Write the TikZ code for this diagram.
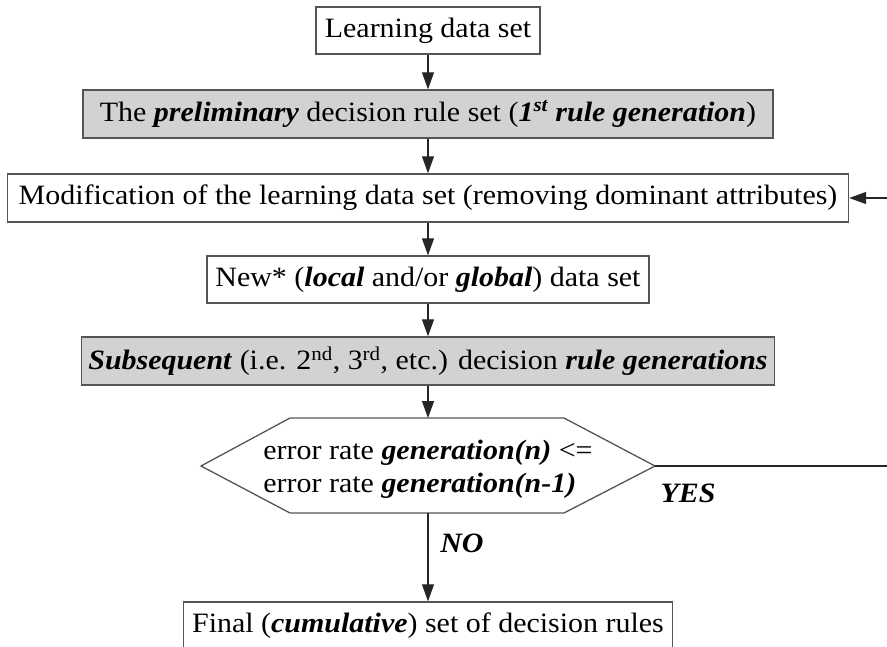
\documentclass[tikz,border=0pt]{standalone}
\usepackage{fontspec}
\setmainfont{Liberation Serif}[FakeStretch=1.07]
\usetikzlibrary{arrows.meta}

\definecolor{edgegray}{RGB}{85,85,85}
\definecolor{boxfill}{RGB}{210,210,210}
\newcommand{\bi}[1]{\textbf{\textit{#1}}}

\tikzset{
  stepbox/.style={draw=edgegray, line width=1.3pt, inner sep=0pt,
    minimum height=47pt, align=center,
    font=\fontsize{28}{33}\selectfont},
  shaded/.style={stepbox, fill=boxfill},
  flow/.style={draw=black!85, line width=1.1pt,
    -{Triangle[length=17pt,width=12pt]}},
  tag/.style={font=\fontsize{28}{33}\selectfont\bfseries\itshape},
}

\begin{document}
\begin{tikzpicture}[x=1pt, y=-1pt]
\useasboundingbox (0,0) rectangle (887,647);
\clip (0,0) rectangle (887,647);
\fill[white] (0,0) rectangle (887,647);

% process boxes
\node[stepbox, minimum width=224pt] (learn) at (428,30.5) {Learning data set};
\node[shaded, minimum width=690pt, minimum height=48pt] (prelim) at (428,114)
  {The \bi{preliminary} decision rule set (\bi{1\textsuperscript{st} rule generation})};
\node[stepbox, minimum width=841pt, minimum height=48pt] (modif) at (428,198)
  {Modification of the learning data set (removing dominant attributes)};
\node[stepbox, minimum width=442pt] (newset) at (428,279.5)
  {New* (\bi{local} and/or \bi{global}) data set};
\node[shaded, minimum width=693pt, minimum height=48pt] (subs) at (428,361)
  {\bi{Subsequent} (i.e. 2\textsuperscript{nd}, 3\textsuperscript{rd}, etc.) decision \bi{rule generations}};
\node[stepbox, minimum width=489pt, minimum height=48pt] (final) at (428,626)
  {Final (\bi{cumulative}) set of decision rules};

% decision hexagon
\draw[draw=edgegray, line width=1.3pt, fill=white]
  (201,466) -- (290,418) -- (564,418) -- (655,466) -- (564,513) -- (290,513) -- cycle;
\coordinate (hexN) at (428,418);
\coordinate (hexS) at (428,513);
\coordinate (hexE) at (655,466);
\node[align=left, inner sep=0pt, font=\fontsize{28}{33}\selectfont] (cond) at (428,469)
  {error rate \bi{generation(n)} <=\\ error rate \bi{generation(n-1)}};

% connectors
\draw[flow] (learn.south) -- (prelim.north);
\draw[flow] (prelim.south) -- (modif.north);
\draw[flow] (modif.south) -- (newset.north);
\draw[flow] (newset.south) -- (subs.north);
\draw[flow] (subs.south) -- (hexN);
\draw[flow] (hexS) -- (final.north);
\draw[flow] (hexE) -- (905,466) |- (modif.east);

% branch labels
\node[tag] (yes) at (688,493) {YES};
\node[tag] (no) at (462,543) {NO};
\end{tikzpicture}
\end{document}
